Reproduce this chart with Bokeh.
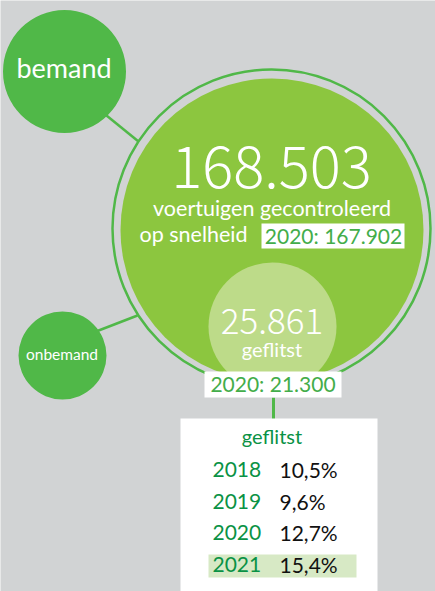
from bokeh.plotting import figure
from bokeh.models import Range1d
from bokeh.core.properties import value
from bokeh.embed import file_html
from bokeh.resources import INLINE

# ---- data ----
total_checked = "168.503"
total_checked_prev = "2020: 167.902"
flashed = "25.861"
flashed_prev = "2020: 21.300"
years = ["2018", "2019", "2020", "2021"]
pct_flashed = ["10,5%", "9,6%", "12,7%", "15,4%"]

GREEN = "#50b848"
LIME = "#8cc63f"
LIGHT = "#bddb89"
LABEL_GREEN = "#43ad4a"
YEAR_GREEN = "#0a9245"
HILITE = "#d7e9c5"
BG = "#d1d3d4"
BODY = value("Lato")
BIG = value("Noto Sans CJK SC Light, Noto Sans CJK SC")

W, H = 435, 591
p = figure(width=W, height=H, x_range=Range1d(0, W), y_range=Range1d(H, 0),
           output_backend="svg", toolbar_location=None, min_border=0)
p.axis.visible = False
p.grid.visible = False
p.outline_line_color = None
p.background_fill_color = BG
p.border_fill_color = BG

K = 0.36  # empirical baseline correction of the svg text renderer


def txt(x, base, s, size, color, align="center", font=BODY):
    ys = [b - K * size for b in base]
    p.text(x=x, y=ys, text=s, text_font=font, text_font_size=f"{size}px",
           text_color=color, text_align=align, text_baseline="alphabetic")


# connectors
p.segment(x0=[90, 80], y0=[102, 337], x1=[138, 137], y1=[141, 315], line_color=GREEN, line_width=2.5)
p.segment(x0=[273], y0=[397], x1=[273], y1=[419], line_color=GREEN, line_width=3)

# circles
p.circle(x=[64], y=[71], radius=61.5, fill_color=GREEN, line_color=None)
p.circle(x=[62], y=[355], radius=44, fill_color=GREEN, line_color=None)
p.circle(x=[271], y=[228], radius=159, fill_color=None, line_color=GREEN, line_width=2.5)
p.circle(x=[271.5], y=[229.5], radius=151.5, fill_color=LIME, line_color=None)
p.circle(x=[272], y=[326], radius=64, fill_color=LIGHT, line_color=None)

# boxes
p.quad(left=[261, 204, 180], right=[404, 341, 377], top=[223, 371, 418], bottom=[248, 397, 600],
       fill_color="white", line_color=None)
p.quad(left=[208], right=[356], top=[554], bottom=[577], fill_color=HILITE, line_color=None)

# circle texts
txt([63.5], [77], ["bemand"], 27, "white")
txt([61.5], [359], ["onbemand"], 15.5, "white")
txt([271], [187], [total_checked], 58, "white", font=BIG)
txt([271.5], [215], ["voertuigen gecontroleerd"], 21.5, "white")
txt([139], [241], ["op snelheid"], 21.5, "white", align="left")
txt([333], [243], [total_checked_prev], 21, LABEL_GREEN)
txt([271.5], [333], [flashed], 35, "white", font=BIG)
txt([271.5], [356], ["geflitst"], 20, "white")
txt([272.5], [391], [flashed_prev], 21, LABEL_GREEN)

# table
txt([271.5], [443], ["geflitst"], 20, YEAR_GREEN)
row_y = [477, 508.5, 540, 571.5]
txt([212] * 4, row_y, years, 21, YEAR_GREEN, align="left")
txt([279] * 4, row_y, pct_flashed, 21, "#111111", align="left")

open("out.html", "w").write(file_html(p, INLINE))
